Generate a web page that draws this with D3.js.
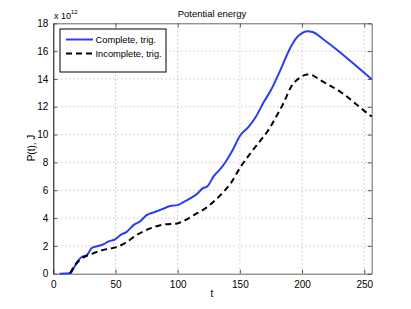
<!DOCTYPE html>
<html>
<head>
<meta charset="utf-8">
<script src="https://cdn.jsdelivr.net/npm/d3@7"></script>
<style>
  body { margin: 0; background: #fff; }
  text { font-family: "Liberation Sans", Arial, sans-serif; fill: #000; }
</style>
</head>
<body>
<div id="chart"></div>
<script>
// values in units of 1e12 J
const completeT = [5, 13.5, 17, 20, 23, 27, 31, 36, 40, 44, 50, 54, 59, 64.5, 70, 75, 82, 87, 94, 100, 105, 110, 116, 120, 124, 129, 134, 138.5, 144, 150, 157, 163, 169, 175, 183, 189.5, 196, 200, 204, 209, 217, 228, 242, 256];
const completeP = [0, 0.03, 0.5, 0.95, 1.22, 1.34, 1.85, 1.99, 2.1, 2.3, 2.49, 2.78, 3.01, 3.49, 3.78, 4.21, 4.45, 4.62, 4.86, 4.93, 5.16, 5.41, 5.77, 6.13, 6.29, 7.01, 7.5, 8.03, 8.85, 9.9, 10.55, 11.3, 12.3, 13.2, 14.73, 16.05, 17.0, 17.3, 17.43, 17.36, 16.85, 16.1, 15.05, 13.98];
const incompleteT = [13.5, 17.5, 23, 32, 42, 50, 58, 67, 78, 89, 99.5, 105, 113, 124, 134.4, 142.5, 150.6, 158, 166.7, 172, 178, 185.5, 191, 199, 204, 207, 215, 231, 253, 256];
const incompleteP = [0.03, 0.62, 1.1, 1.46, 1.75, 1.89, 2.22, 2.78, 3.26, 3.54, 3.61, 3.8, 4.21, 4.81, 5.65, 6.48, 7.68, 8.6, 9.59, 10.2, 11.1, 12.34, 13.41, 14.13, 14.32, 14.3, 13.9, 13.06, 11.5, 11.3];
const xTicks = [0, 50, 100, 150, 200, 250];
const yTicks = [0, 2, 4, 6, 8, 10, 12, 14, 16, 18];
const seriesNames = ["Complete, trig.", "Incomplete, trig."];

const W = 411, H = 309;
const margin = { top: 23.3, right: 39.3, bottom: 35.3, left: 53.3 };
const width = W - margin.left - margin.right;
const height = H - margin.top - margin.bottom;

const svg = d3.select("#chart").append("svg")
  .attr("width", W).attr("height", H);

const g = svg.append("g")
  .attr("transform", `translate(${margin.left},${margin.top})`);

const x = d3.scaleLinear().domain([0, 256]).range([0, width]);
const y = d3.scaleLinear().domain([0, 18]).range([height, 0]);

// grid
g.append("g").selectAll("line")
  .data(xTicks.slice(1))
  .join("line")
  .attr("x1", d => x(d)).attr("x2", d => x(d))
  .attr("y1", 0).attr("y2", height)
  .attr("stroke", "#b0b0b0").attr("stroke-dasharray", "1,3");
g.append("g").selectAll("line")
  .data(yTicks.slice(1, -1))
  .join("line")
  .attr("x1", 0).attr("x2", width)
  .attr("y1", d => y(d)).attr("y2", d => y(d))
  .attr("stroke", "#b0b0b0").attr("stroke-dasharray", "1,3");

// axes
const xAxis = g.append("g")
  .attr("transform", `translate(0,${height})`)
  .call(d3.axisBottom(x).tickValues(xTicks).tickSizeInner(-4).tickSizeOuter(0).tickPadding(7));
const yAxis = g.append("g")
  .call(d3.axisLeft(y).tickValues(yTicks).tickSizeInner(-4).tickSizeOuter(0).tickPadding(5));
g.append("g")
  .call(d3.axisTop(x).tickValues(xTicks).tickSizeInner(-4).tickSizeOuter(0).tickFormat(""));
g.append("g")
  .attr("transform", `translate(${width},0)`)
  .call(d3.axisRight(y).tickValues(yTicks).tickSizeInner(-4).tickSizeOuter(0).tickFormat(""));

g.selectAll(".domain").attr("stroke", "#666");
g.selectAll(".tick line").attr("stroke", "#555");
yAxis.select(".domain").attr("stroke", "#000");
g.selectAll(".tick text").attr("font-size", 10)
  .attr("font-family", "Liberation Sans, Arial, sans-serif").attr("fill", "#000");

// lines
const line = d3.line().x(d => x(d[0])).y(d => y(d[1])).curve(d3.curveMonotoneX);
const completeData = completeT.map((t, i) => [t, completeP[i]]);
const incompleteData = incompleteT.map((t, i) => [t, incompleteP[i]]);

g.append("path").datum(completeData)
  .attr("d", line).attr("fill", "none")
  .attr("stroke", "#2b3cf5").attr("stroke-width", 2);
g.append("path").datum(incompleteData)
  .attr("d", line).attr("fill", "none")
  .attr("stroke", "#000").attr("stroke-width", 2)
  .attr("stroke-dasharray", "6,4");

// texts
svg.append("text").attr("x", 212).attr("y", 17)
  .attr("text-anchor", "middle").attr("font-size", 9.5).text("Potential energy");
svg.append("text").attr("x", 212).attr("y", 297)
  .attr("text-anchor", "middle").attr("font-size", 10).text("t");
svg.append("text")
  .attr("transform", "translate(35,148) rotate(-90)")
  .attr("text-anchor", "middle").attr("font-size", 10).text("P(t), J");
const mult = svg.append("text").attr("x", 54).attr("y", 19).attr("font-size", 9);
mult.append("tspan").text("x 10");
mult.append("tspan").attr("dy", -5).attr("font-size", 6).text("12");

// legend
const leg = svg.append("g").attr("transform", "translate(60,29)");
leg.append("rect").attr("width", 106).attr("height", 43)
  .attr("fill", "#fff").attr("stroke", "#000").attr("stroke-width", 1);
const legColors = ["#2b3cf5", "#000"];
const legDash = [null, "6,4"];
seriesNames.forEach((name, i) => {
  const ly = 10.5 + i * 14;
  leg.append("line").attr("x1", 6).attr("x2", 33).attr("y1", ly).attr("y2", ly)
    .attr("stroke", legColors[i]).attr("stroke-width", 2)
    .attr("stroke-dasharray", legDash[i]);
  leg.append("text").attr("x", 35.5).attr("y", ly + 3.5)
    .attr("font-size", 9.3).text(name);
});
</script>
</body>
</html>
